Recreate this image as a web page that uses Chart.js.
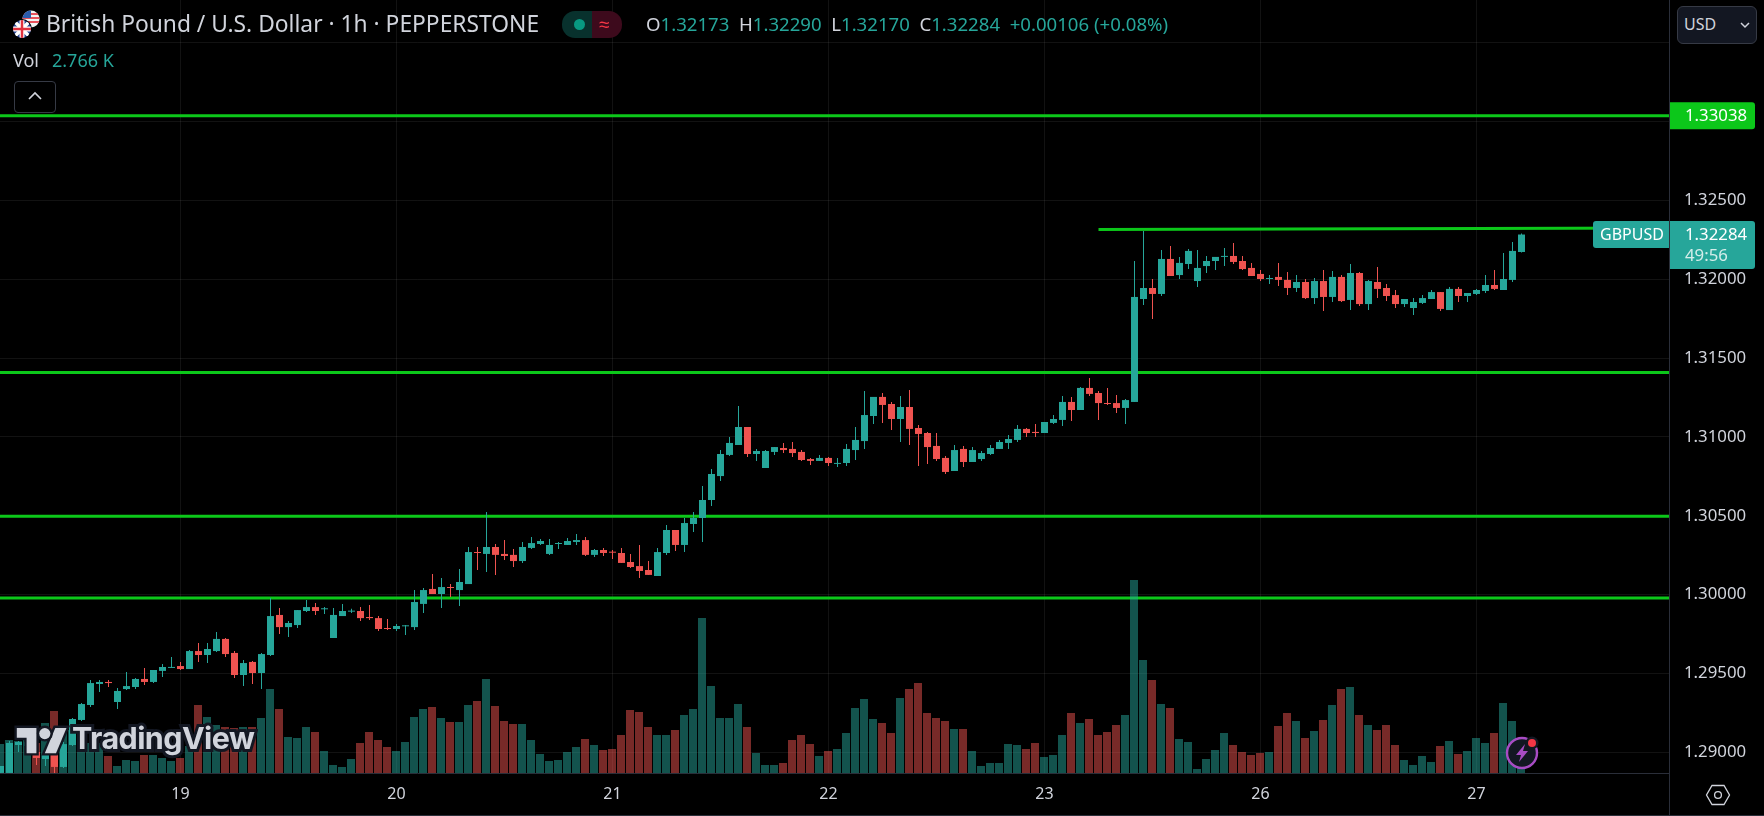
<!DOCTYPE html>
<html>
<head>
<meta charset="utf-8">
<title>GBPUSD</title>
<script src="https://cdn.jsdelivr.net/npm/chart.js@4"></script>
<style>
  html, body { margin: 0; padding: 0; background: #000; width: 1764px; height: 816px; overflow: hidden; }
  body { position: relative; font-family: "Noto Sans", sans-serif; color: #d1d4dc; }
  canvas { position: absolute; left: 0; top: 0; }
  .abs { position: absolute; white-space: nowrap; }
  .teal { color: #26a69a; }
  #logoText { left: 72px; top: 719px; font: 700 30.5px "Inter", sans-serif; letter-spacing: -0.6px; color: #d1d4dc;
    -webkit-text-stroke: 6px #131722; paint-order: stroke fill; }
</style>
</head>
<body>
<canvas id="chart" width="1764" height="816"></canvas>

<!-- шапка -->
<svg class="abs" style="left:10px;top:8px" width="36" height="34" viewBox="0 0 36 34">
  <defs>
    <clipPath id="us"><circle cx="21" cy="11" r="8.5"/></clipPath>
    <clipPath id="uk"><circle cx="12" cy="21" r="9"/></clipPath>
  </defs>
  <g clip-path="url(#us)">
    <rect x="12" y="2" width="18" height="18" fill="#f2f2f2"/>
    <rect x="12" y="5" width="18" height="2" fill="#e8505b"/>
    <rect x="12" y="9" width="18" height="2" fill="#e8505b"/>
    <rect x="12" y="13" width="18" height="2" fill="#e8505b"/>
    <rect x="12" y="2" width="9" height="8" fill="#2b5cab"/>
  </g>
  <circle cx="12" cy="21" r="10" fill="#000"/>
  <g clip-path="url(#uk)">
    <rect x="3" y="12" width="18" height="18" fill="#24418f"/>
    <path d="M3 12L21 30M21 12L3 30" stroke="#fff" stroke-width="3.5"/>
    <path d="M12 12V30M3 21H21" stroke="#fff" stroke-width="5"/>
    <path d="M12 12V30M3 21H21" stroke="#e0313f" stroke-width="2.5"/>
  </g>
</svg>
<div class="abs" id="title" style="left:46px;top:10px;font-size:22.8px;line-height:28px;">British Pound / U.S. Dollar · 1h · PEPPERSTONE</div>

<div class="abs" style="left:562px;top:11px;width:30px;height:27px;background:#08312d;border-radius:13px 0 0 13px"></div>
<div class="abs" style="left:592px;top:11px;width:30px;height:27px;background:#3d0a1c;border-radius:0 13px 13px 0"></div>
<div class="abs" style="left:574px;top:19px;width:11px;height:11px;background:#089981;border-radius:50%"></div>
<div class="abs" style="left:599px;top:10px;font-size:19px;line-height:28px;color:#f23645">≈</div>

<div class="abs teal" id="ohlc" style="left:646px;top:10px;font-size:18.6px;line-height:28px;">
  <span style="color:#d1d4dc">O</span>1.32173&nbsp;&nbsp;<span style="color:#d1d4dc">H</span>1.32290&nbsp;&nbsp;<span style="color:#d1d4dc">L</span>1.32170&nbsp;&nbsp;<span style="color:#d1d4dc">C</span>1.32284&nbsp;&nbsp;+0.00106 (+0.08%)
</div>

<div class="abs" style="left:13px;top:48px;font-size:18px;line-height:24px;">Vol</div>
<div class="abs teal" style="left:52px;top:48px;font-size:18px;line-height:24px;">2.766 K</div>

<div class="abs" style="left:14px;top:81px;width:40px;height:30px;border:1px solid #363a45;border-radius:4px"></div>
<svg class="abs" style="left:26px;top:89px" width="18" height="14" viewBox="0 0 18 14">
  <path d="M3 10L9 4L15 10" fill="none" stroke="#d1d4dc" stroke-width="1.6"/>
</svg>

<div class="abs" style="left:1677px;top:6px;width:78px;height:36px;background:#131722;border:1px solid #363a45;border-radius:6px"></div>
<div class="abs" style="left:1684px;top:10px;font-size:16px;line-height:28px;">USD</div>
<svg class="abs" style="left:1739px;top:20px" width="12" height="10" viewBox="0 0 12 10">
  <path d="M2 3L6 7L10 3" fill="none" stroke="#d1d4dc" stroke-width="1.5"/>
</svg>

<!-- настройки -->
<svg class="abs" style="left:1705px;top:784px" width="26" height="22" viewBox="0 0 26 22">
  <path d="M7 1.5H19L24.5 11L19 20.5H7L1.5 11Z" fill="none" stroke="#d1d4dc" stroke-width="1.3"/>
  <circle cx="13" cy="11" r="3.4" fill="none" stroke="#d1d4dc" stroke-width="1.3"/>
</svg>

<div class="abs" style="left:1669px;top:773px;width:1px;height:43px;background:#2a2e39"></div>
<div class="abs" style="left:0;top:815px;width:1764px;height:1px;background:#2a2e39"></div>

<!-- логотип -->
<svg class="abs" style="left:14px;top:722px" width="56" height="40" viewBox="-2 0 40 28">
  <g fill="#d1d4dc" stroke="#131722" stroke-width="3.4" paint-order="stroke fill">
    <path d="M14 22H7V11H0V4h14v18z"/>
    <path d="M28 22h-8l7.5-18h8L28 22z"/>
    <circle cx="20" cy="8" r="4"/>
  </g>
</svg>
<div class="abs" id="logoText">TradingView</div>

<!-- молния -->
<svg class="abs" style="left:1503px;top:735px" width="40" height="38" viewBox="0 0 40 38">
  <circle cx="19" cy="18" r="15" fill="#131722" stroke="#a84cc4" stroke-width="2.4"/>
  <path d="M22 9L13 20H18L16 27L25 16H20Z" fill="#a84cc4"/>
  <circle cx="29" cy="8" r="6.5" fill="#131722"/>
  <circle cx="29" cy="8" r="4" fill="#f23645"/>
</svg>

<script>
// Свечи GBPUSD, 1h
const opens = [
  1.28869,1.28869,1.29046,1.29040,1.29002,1.28957,1.29014,1.28907,1.29046,1.29205,
  1.29300,1.29433,1.29446,1.29319,1.29401,1.29414,1.29465,1.29446,1.29516,1.29535,
  1.29547,1.29528,1.29642,1.29617,1.29642,1.29719,1.29630,1.29490,1.29573,1.29503,
  1.29617,1.29871,1.29794,1.29807,1.29896,1.29921,1.29907,1.29725,1.29864,1.29892,
  1.29896,1.29858,1.29851,1.29788,1.29782,1.29799,1.29794,1.29941,1.30036,1.30004,
  1.30048,1.30029,1.30067,1.30270,1.30258,1.30302,1.30258,1.30252,1.30213,1.30296,
  1.30321,1.30258,1.30321,1.30315,1.30334,1.30346,1.30252,1.30283,1.30272,1.30264,
  1.30207,1.30181,1.30156,1.30118,1.30264,1.30410,1.30315,1.30448,1.30486,1.30600,
  1.30752,1.30886,1.30949,1.31063,1.30892,1.30803,1.30905,1.30930,1.30924,1.30905,
  1.30860,1.30848,1.30867,1.30829,1.30835,1.30917,1.30974,1.31133,1.31254,1.31209,
  1.31114,1.31190,1.31057,1.31025,1.30943,1.30867,1.30784,1.30924,1.30841,1.30860,
  1.30892,1.30924,1.30962,1.30981,1.31051,1.31032,1.31025,1.31089,1.31108,1.31222,
  1.31171,1.31311,1.31279,1.31215,1.31215,1.31184,1.31222,1.31875,1.31945,1.31907,
  1.32129,1.32027,1.32097,1.31989,1.32084,1.32116,1.32142,1.32148,1.32116,1.32072,
  1.32034,1.32002,1.32015,1.31996,1.31945,1.31983,1.31881,1.31989,1.31888,1.32015,
  1.31869,1.32040,1.31843,1.31983,1.31945,1.31900,1.31843,1.31818,1.31850,1.31875,
  1.31919,1.31805,1.31939,1.31894,1.31907,1.31926,1.31964,1.31932,1.31996,1.32173
];
const highs = [
  1.28913,1.29071,1.29071,1.29078,1.29014,1.28995,1.29040,1.29065,1.29217,1.29313,
  1.29458,1.29458,1.29458,1.29408,1.29509,1.29471,1.29535,1.29522,1.29560,1.29604,
  1.29573,1.29649,1.29693,1.29693,1.29763,1.29725,1.29642,1.29585,1.29579,1.29630,
  1.29979,1.29915,1.29832,1.29902,1.29966,1.29947,1.29921,1.29915,1.29941,1.29911,
  1.29921,1.29934,1.29864,1.29845,1.29814,1.29807,1.30029,1.30042,1.30131,1.30105,
  1.30067,1.30162,1.30302,1.30302,1.30524,1.30321,1.30346,1.30289,1.30334,1.30365,
  1.30353,1.30353,1.30334,1.30359,1.30384,1.30365,1.30289,1.30296,1.30283,1.30296,
  1.30258,1.30315,1.30213,1.30296,1.30442,1.30410,1.30486,1.30524,1.30689,1.30797,
  1.30917,1.31000,1.31197,1.31063,1.30924,1.30917,1.30936,1.30962,1.30968,1.30917,
  1.30867,1.30886,1.30873,1.30867,1.30955,1.31063,1.31292,1.31254,1.31279,1.31222,
  1.31260,1.31298,1.31076,1.31032,1.31025,1.30879,1.30949,1.30943,1.30936,1.30911,
  1.30949,1.30981,1.31013,1.31076,1.31057,1.31082,1.31095,1.31139,1.31260,1.31254,
  1.31317,1.31374,1.31292,1.31311,1.31266,1.31241,1.32116,1.32307,1.32002,1.32186,
  1.32211,1.32142,1.32192,1.32186,1.32148,1.32142,1.32199,1.32230,1.32148,1.32104,
  1.32059,1.32027,1.32104,1.32046,1.32027,1.32002,1.32008,1.32059,1.32053,1.32027,
  1.32097,1.32046,1.31996,1.32078,1.31970,1.31932,1.31875,1.31881,1.31900,1.31932,
  1.31919,1.31951,1.31951,1.31913,1.31939,1.32027,1.32059,1.32167,1.32237,1.32290
];
const lows = [
  1.28869,1.28869,1.29002,1.29014,1.28919,1.28913,1.28869,1.28900,1.29040,1.29198,
  1.29287,1.29382,1.29414,1.29274,1.29395,1.29401,1.29427,1.29439,1.29477,1.29535,
  1.29522,1.29528,1.29573,1.29566,1.29636,1.29604,1.29471,1.29420,1.29433,1.29401,
  1.29611,1.29750,1.29731,1.29788,1.29890,1.29871,1.29877,1.29725,1.29864,1.29883,
  1.29832,1.29839,1.29769,1.29776,1.29769,1.29744,1.29776,1.29883,1.30004,1.29915,
  1.29985,1.29928,1.30067,1.30156,1.30144,1.30125,1.30220,1.30175,1.30201,1.30289,
  1.30315,1.30252,1.30289,1.30315,1.30315,1.30245,1.30239,1.30245,1.30226,1.30201,
  1.30169,1.30105,1.30125,1.30118,1.30252,1.30276,1.30270,1.30397,1.30334,1.30562,
  1.30721,1.30879,1.30949,1.30873,1.30848,1.30803,1.30886,1.30898,1.30873,1.30848,
  1.30822,1.30848,1.30816,1.30810,1.30816,1.30854,1.30924,1.31082,1.31089,1.31044,
  1.30968,1.30949,1.30816,1.30829,1.30848,1.30765,1.30784,1.30810,1.30841,1.30848,
  1.30886,1.30924,1.30924,1.30968,1.31000,1.31000,1.31025,1.31082,1.31070,1.31101,
  1.31171,1.31260,1.31108,1.31203,1.31152,1.31082,1.31222,1.31837,1.31748,1.31894,
  1.32021,1.32002,1.32065,1.31951,1.32040,1.32059,1.32084,1.32097,1.32059,1.32021,
  1.31989,1.31970,1.31957,1.31900,1.31919,1.31875,1.31843,1.31799,1.31856,1.31856,
  1.31805,1.31831,1.31805,1.31881,1.31862,1.31818,1.31824,1.31774,1.31843,1.31875,
  1.31799,1.31805,1.31856,1.31856,1.31900,1.31913,1.31932,1.31932,1.31983,1.32170
];
const closes = [
  1.28913,1.29059,1.29065,1.29065,1.28964,1.28983,1.28907,1.29052,1.29211,1.29306,
  1.29439,1.29446,1.29439,1.29389,1.29420,1.29465,1.29446,1.29522,1.29541,1.29541,
  1.29528,1.29642,1.29617,1.29655,1.29719,1.29623,1.29490,1.29566,1.29503,1.29623,
  1.29864,1.29794,1.29820,1.29902,1.29921,1.29896,1.29911,1.29871,1.29896,1.29898,
  1.29851,1.29851,1.29782,1.29782,1.29801,1.29803,1.29953,1.30029,1.30004,1.30048,
  1.30042,1.30080,1.30270,1.30264,1.30302,1.30252,1.30245,1.30213,1.30302,1.30327,
  1.30340,1.30315,1.30327,1.30340,1.30346,1.30252,1.30283,1.30264,1.30266,1.30201,
  1.30175,1.30150,1.30125,1.30270,1.30410,1.30315,1.30454,1.30486,1.30600,1.30765,
  1.30892,1.30962,1.31063,1.30892,1.30911,1.30911,1.30936,1.30917,1.30898,1.30854,
  1.30848,1.30867,1.30835,1.30835,1.30924,1.30981,1.31139,1.31254,1.31203,1.31114,
  1.31190,1.31051,1.31019,1.30936,1.30860,1.30778,1.30917,1.30841,1.30917,1.30898,
  1.30930,1.30968,1.30987,1.31051,1.31025,1.31025,1.31095,1.31114,1.31222,1.31171,
  1.31311,1.31273,1.31215,1.31209,1.31184,1.31234,1.31888,1.31945,1.31907,1.32129,
  1.32021,1.32104,1.32180,1.32072,1.32116,1.32142,1.32148,1.32110,1.32065,1.32021,
  1.32002,1.32008,1.31996,1.31945,1.31983,1.31881,1.31989,1.31888,1.32015,1.31862,
  1.32040,1.31843,1.31989,1.31939,1.31894,1.31843,1.31875,1.31856,1.31881,1.31919,
  1.31812,1.31939,1.31894,1.31913,1.31932,1.31964,1.31939,1.32002,1.32180,1.32284
];
// Объём, тысячи
const volumes = [
  7.25,8.25,8,9,7.5,12.5,15.5,10.25,10.75,7.5,
  7.5,7.5,4.25,1.75,3.25,3,4.5,4.5,3.75,3,
  3.75,6.75,17,14,12,11.5,11.25,11.5,11.5,13.75,
  21,16,9,8.75,11.5,10.25,5.5,2,1.5,3.5,
  7.5,10.25,8.25,6.5,5.5,7.75,14,16,16.5,13.75,
  12.75,12.75,17,18,23.5,16.75,13,12.25,12.25,8.25,
  4.75,3,3.25,5.25,6.5,8.5,7,5.75,6,9.5,
  15.75,15.25,11.5,9.5,9.5,10.75,14.5,16,38.75,21.75,
  13.75,13.75,17.25,11.5,5,2,2,2.5,8.25,9.5,
  7.25,4.25,5.5,6,10,16.25,18.5,13.5,12.5,10,
  18.75,21,22.5,15,13.75,13,11,11,5.5,1.75,
  2.5,2.5,7.25,7,6,7.5,4,4.5,9.5,15,
  12.5,13.5,9.5,10.25,12,14.5,48.25,28.25,23.25,17.25,
  16.25,8.5,7.75,1,3.5,5.75,10,7,5.25,4.5,
  5,5.25,11.75,15,13,8.75,10.5,13.25,17,21,
  21.5,14.5,12,10.75,12,7,3.25,2,4.25,2.75,
  6.75,8,4.75,5.5,8.75,7.5,10,17.5,13,2.766
];

const dayIndexes = [20, 44, 68, 92, 116, 140, 164];
const dayLabels = ['19', '20', '21', '22', '23', '26', '27'];
const priceTicks = [1.335, 1.33, 1.325, 1.32, 1.315, 1.31, 1.305, 1.3, 1.295, 1.29];
const hiddenPriceTicks = [1.335, 1.33];
const levels = [1.33038, 1.31409, 1.30497, 1.29978];
const trendLine = [{ x: 122, y: 1.32316 }, { x: 185, y: 1.32325 }];

const TEAL = '#26a69a';
const RED = '#ef5350';
const GREEN = '#0cc71a';
const FONT = '"Noto Sans", sans-serif';

const idx = opens.map((_, i) => i);
const isUp = i => closes[i] >= opens[i];
const candleColors = idx.map(i => isUp(i) ? TEAL : RED);
const volColors = idx.map(i => isUp(i) ? 'rgba(38,166,154,0.5)' : 'rgba(239,83,80,0.5)');

const xMin = -0.5 / 9;
const xMax = 1668.5 / 9;

const levelSets = levels.map(level => ({
    type: 'line',
    order: 4,
    data: [{ x: xMin, y: level }, { x: xMax, y: level }],
    borderColor: GREEN,
    borderWidth: 3,
    pointRadius: 0,
    yAxisID: 'y'
}));

// Метки на шкале цен
const priceTags = {
    id: 'priceTags',
    afterDraw(chart) {
        const ctx = chart.ctx;
        const y = chart.scales.y;
        ctx.save();
        ctx.textBaseline = 'middle';

        const lvl = y.getPixelForValue(levels[0]);
        ctx.fillStyle = GREEN;
        ctx.beginPath();
        ctx.roundRect(1670, lvl - 13.5, 85, 27, [0, 3, 3, 0]);
        ctx.fill();
        ctx.fillStyle = '#fff';
        ctx.font = '16.8px ' + FONT;
        ctx.fillText(levels[0].toFixed(5), 1685, lvl + 1);

        const last = closes[closes.length - 1];
        const py = y.getPixelForValue(last);
        ctx.fillStyle = TEAL;
        ctx.beginPath();
        ctx.roundRect(1593, py - 13.5, 76, 27, [3, 0, 0, 3]);
        ctx.fill();
        ctx.beginPath();
        ctx.roundRect(1670, py - 13.5, 85, 48, [0, 3, 3, 0]);
        ctx.fill();
        ctx.fillStyle = '#fff';
        ctx.fillText(last.toFixed(5), 1685, py + 1);
        ctx.fillStyle = '#d4edea';
        ctx.fillText('49:56', 1685, py + 22);
        ctx.fillStyle = '#fff';
        ctx.font = '16px ' + FONT;
        ctx.fillText('GBPUSD', 1600, py + 1);
        ctx.restore();
    }
};

new Chart(document.getElementById('chart').getContext('2d'), {
    data: {
        datasets: [
            ...levelSets,
            {
                type: 'line',
                order: 4,
                data: trendLine,
                borderColor: GREEN,
                borderWidth: 3,
                pointRadius: 0,
                yAxisID: 'y'
            },
            {
                type: 'bar',
                order: 3,
                data: idx.map(i => ({ x: i - 1 / 18, y: volumes[i] })),
                backgroundColor: volColors,
                barThickness: 8,
                inflateAmount: 0,
                grouped: false,
                yAxisID: 'v'
            },
            {
                type: 'bar',
                order: 2,
                data: idx.map(i => ({ x: i, y: [lows[i], highs[i]] })),
                backgroundColor: candleColors,
                barThickness: 1,
                inflateAmount: 0,
                grouped: false,
                yAxisID: 'y'
            },
            {
                type: 'bar',
                order: 1,
                data: idx.map(i => ({ x: i, y: [Math.min(opens[i], closes[i]), Math.max(opens[i], closes[i])] })),
                backgroundColor: candleColors,
                barThickness: 7,
                minBarLength: 1,
                inflateAmount: 0,
                grouped: false,
                yAxisID: 'y'
            }
        ]
    },
    options: {
        responsive: false,
        animation: false,
        layout: { padding: 0 },
        plugins: { legend: { display: false }, tooltip: { enabled: false } },
        scales: {
            x: {
                type: 'linear',
                min: xMin,
                max: xMax,
                offset: false,
                afterBuildTicks: s => { s.ticks = dayIndexes.map(v => ({ value: v })); },
                afterFit: s => { s.height = 43; s.paddingLeft = 0; s.paddingRight = 0; },
                grid: { color: 'rgba(255,255,255,0.07)', drawTicks: false, offset: false },
                border: { display: true, color: '#2a2e39' },
                ticks: {
                    autoSkip: false,
                    maxRotation: 0,
                    padding: 12,
                    color: '#d1d4dc',
                    font: { family: FONT, size: 16 },
                    callback: v => dayLabels[dayIndexes.indexOf(v)]
                }
            },
            y: {
                type: 'linear',
                position: 'right',
                min: 1.32 - (773 - 279.3) / 15766,
                max: 1.32 + 279.3 / 15766,
                afterBuildTicks: s => { s.ticks = priceTicks.map(v => ({ value: v })); },
                afterFit: s => { s.width = 95; s.paddingTop = 0; s.paddingBottom = 0; },
                grid: { color: 'rgba(255,255,255,0.07)', drawTicks: false },
                border: { display: true, color: '#2a2e39' },
                ticks: {
                    autoSkip: false,
                    padding: 15,
                    color: '#d1d4dc',
                    font: { family: FONT, size: 16.8 },
                    callback: v => hiddenPriceTicks.includes(v) ? '' : v.toFixed(5)
                }
            },
            v: {
                type: 'linear',
                display: false,
                min: 0,
                max: 773 / 4
            }
        }
    },
    plugins: [priceTags]
});
</script>
</body>
</html>
